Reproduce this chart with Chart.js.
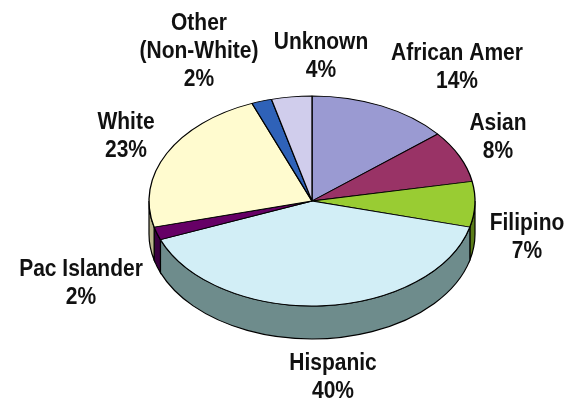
<!DOCTYPE html>
<html>
<head>
    <style>
        html, body { margin: 0; padding: 0; background: #ffffff; }
        #wrap { width: 577px; height: 402px; }
    </style>
    <script src="https://cdn.jsdelivr.net/npm/chart.js"></script>
</head>
<body>
    <div id="wrap"><canvas id="myChart" width="577" height="402"></canvas></div>
    <script>
        // data, clockwise from 12 o'clock
        var categories = ['African Amer', 'Asian', 'Filipino', 'Hispanic', 'Pac Islander', 'White', 'Other\n(Non-White)', 'Unknown'];
        var shares = [14, 8, 7, 40, 2, 23, 2, 4];

        var topColors = ['#9a9ad2', '#993366', '#99cc33', '#d2eef6', '#660066', '#fffbcf', '#2f62b8', '#d0cdec'];
        var sideColors = ['#5c5c8a', '#5e1f3f', '#5a7c18', '#6e8c8c', '#3a0040', '#b8b48a', '#1d3c72', '#8a88a8'];

        // label centres (first line) for each slice
        var labelAt = [[457, 53], [498, 123], [527, 223], [333, 363], [81, 269], [126, 122], [199, 23], [321, 42]];

        var tilt = 105 / 163;   // vertical squash of the top face
        var depth = 33;         // height of the side wall

        var pie3d = {
            id: 'pie3d',
            beforeDatasetsDraw: function(chart) {
                var ctx = chart.ctx;
                var arcs = chart.getDatasetMeta(0).data;
                ctx.save();
                // side walls of the front half
                arcs.forEach(function(arc, i) {
                    var a0 = Math.max(arc.startAngle, 0);
                    var a1 = Math.min(arc.endAngle, Math.PI);
                    if (a1 <= a0) return;
                    var r = arc.outerRadius, ry = r * tilt;
                    ctx.beginPath();
                    ctx.ellipse(arc.x, arc.y, r, ry, 0, a0, a1);
                    ctx.ellipse(arc.x, arc.y + depth, r, ry, 0, a1, a0, true);
                    ctx.closePath();
                    ctx.fillStyle = sideColors[i];
                    ctx.fill();
                    ctx.lineWidth = 1.2;
                    ctx.strokeStyle = '#000';
                    ctx.stroke();
                });
                // squash the pie into an ellipse
                var cx = arcs[0].x, cy = arcs[0].y;
                ctx.translate(cx, cy);
                ctx.scale(1, tilt);
                ctx.translate(-cx, -cy);
            },
            afterDatasetsDraw: function(chart) {
                chart.ctx.restore();
            },
            afterDraw: function(chart) {
                var ctx = chart.ctx;
                var stretch = 1.15; // labels in the original are a little tall
                ctx.save();
                ctx.font = 'bold 21px "Liberation Sans", Arial, sans-serif';
                ctx.fillStyle = '#111';
                ctx.textAlign = 'center';
                ctx.textBaseline = 'middle';
                categories.forEach(function(name, i) {
                    var lines = name.split('\n').concat([shares[i] + '%']);
                    lines.forEach(function(t, j) {
                        var x = labelAt[i][0], y = labelAt[i][1] + j * 28;
                        ctx.save();
                        ctx.translate(x, y);
                        ctx.scale(1, stretch);
                        ctx.fillText(t, 0, 0);
                        ctx.restore();
                    });
                });
                ctx.restore();
            }
        };

        var ctx = document.getElementById('myChart').getContext('2d');
        var myChart = new Chart(ctx, {
            type: 'pie',
            data: {
                labels: categories,
                datasets: [{
                    data: shares,
                    backgroundColor: topColors,
                    borderColor: '#000',
                    borderWidth: 1.3
                }]
            },
            options: {
                responsive: false,
                animation: false,
                radius: 163,
                rotation: 0,
                layout: { padding: { left: 149, right: 102, top: 38, bottom: 38 } },
                plugins: {
                    legend: { display: false },
                    tooltip: { enabled: false }
                }
            },
            plugins: [pie3d]
        });
    </script>
</body>
</html>
